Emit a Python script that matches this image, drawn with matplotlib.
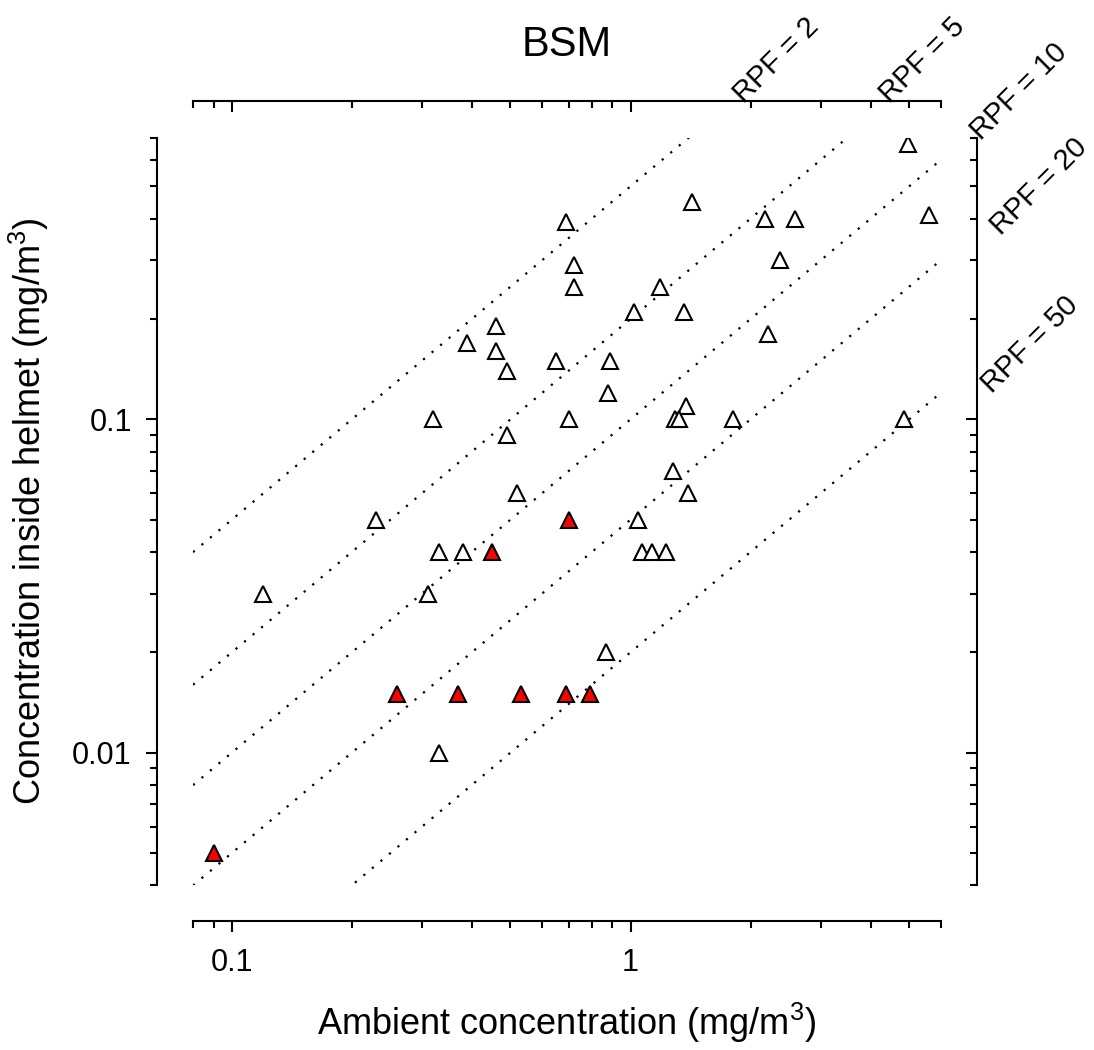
import matplotlib
matplotlib.use("Agg")
import matplotlib.pyplot as plt
import matplotlib.ticker as mticker
import numpy as np

plt.rcParams['font.family'] = ['Liberation Sans', 'DejaVu Sans']
plt.rcParams['mathtext.fontset'] = 'custom'
plt.rcParams['mathtext.rm'] = 'Liberation Sans'
plt.rcParams['mathtext.it'] = 'Liberation Sans'
plt.rcParams['mathtext.default'] = 'regular'

# ambient vs. in-helmet concentration (mg/m3)
open_x = [4.96, 1.43, 0.69, 2.18, 2.58, 5.6, 0.72, 0.72, 2.37, 1.185,
          1.02, 1.36, 0.46, 0.39, 0.46, 0.65, 0.49, 2.21, 0.886, 0.876,
          0.32, 0.70, 1.375, 1.29, 1.32, 1.81, 4.85, 0.49, 1.28, 1.39,
          0.52, 0.23, 1.045, 0.33, 0.38, 1.07, 1.13, 1.23, 0.12, 0.31,
          0.87, 0.33]
open_y = [0.67, 0.45, 0.39, 0.40, 0.40, 0.41, 0.29, 0.25, 0.30, 0.25,
          0.21, 0.21, 0.19, 0.17, 0.16, 0.15, 0.14, 0.18, 0.15, 0.12,
          0.10, 0.10, 0.11, 0.10, 0.10, 0.10, 0.10, 0.09, 0.07, 0.06,
          0.06, 0.05, 0.05, 0.04, 0.04, 0.04, 0.04, 0.04, 0.03, 0.03,
          0.02, 0.01]
red_x = [0.09, 0.26, 0.37, 0.53, 0.69, 0.79, 0.45, 0.70]
red_y = [0.005, 0.015, 0.015, 0.015, 0.015, 0.015, 0.04, 0.05]

rpf_values = [2, 5, 10, 20, 50]
rpf_labels = ['RPF = 2', 'RPF = 5', 'RPF = 10', 'RPF = 20', 'RPF = 50']

x_limits = (0.0799, 6.004)
y_limits = (0.003998, 0.7004)
x_ticks = [0.1, 1]
x_ticklabels = ['0.1', '1']
y_ticks = [0.01, 0.1]
y_ticklabels = ['0.01', '0.1']

fig = plt.figure(figsize=(10.94, 10.5), dpi=100)
ax = fig.add_axes([0.1764, 0.1568, 0.6836, 0.7122])
ax.set_xscale('log')
ax.set_yscale('log')
ax.set_xlim(x_limits)
ax.set_ylim(y_limits)

# RPF reference lines y = x / RPF
xs = np.array(x_limits)
for r in rpf_values:
    ax.plot(xs, xs / r, color='black', lw=1.6, linestyle=(0, (1, 4.0)),
            dash_capstyle='butt', zorder=1)

ax.plot(open_x, open_y, linestyle='none', marker='^', ms=11,
        mfc='white', mec='black', mew=1.5, zorder=3)
ax.plot(red_x, red_y, linestyle='none', marker='^', ms=11,
        mfc='red', mec='black', mew=1.5, zorder=3)

off = 26
lw_sp = 1.5
for s in ['top', 'right']:
    ax.spines[s].set_visible(False)
for s in ['left', 'bottom']:
    ax.spines[s].set_position(('outward', off))
    ax.spines[s].set_linewidth(lw_sp)

ax.xaxis.set_major_locator(mticker.FixedLocator(x_ticks))
ax.xaxis.set_major_formatter(mticker.FixedFormatter(x_ticklabels))
ax.yaxis.set_major_locator(mticker.FixedLocator(y_ticks))
ax.yaxis.set_major_formatter(mticker.FixedFormatter(y_ticklabels))
ax.xaxis.set_minor_formatter(mticker.NullFormatter())
ax.yaxis.set_minor_formatter(mticker.NullFormatter())
ax.tick_params(which='both', direction='out', width=lw_sp, labelsize=22,
               top=False, right=False)
ax.tick_params(which='major', length=8)
ax.tick_params(which='minor', length=5)
ax.tick_params(axis='x', pad=11)
ax.tick_params(axis='y', pad=10)

# top axis (ticks pointing toward the plot)
axt = ax.twiny()
axt.set_xscale('log')
axt.set_xlim(x_limits)
for s in ['bottom', 'left', 'right']:
    axt.spines[s].set_visible(False)
axt.spines['top'].set_position(('outward', off))
axt.spines['top'].set_linewidth(lw_sp)
axt.xaxis.set_major_locator(mticker.FixedLocator(x_ticks))
axt.xaxis.set_major_formatter(mticker.NullFormatter())
axt.xaxis.set_minor_formatter(mticker.NullFormatter())
axt.tick_params(which='both', direction='in', width=lw_sp, top=True,
                labeltop=False, bottom=False, labelbottom=False)
axt.tick_params(which='major', length=8)
axt.tick_params(which='minor', length=5)

# right axis
axr = ax.twinx()
axr.set_yscale('log')
axr.set_ylim(y_limits)
for s in ['bottom', 'left', 'top']:
    axr.spines[s].set_visible(False)
axr.spines['right'].set_position(('outward', off))
axr.spines['right'].set_linewidth(lw_sp)
axr.yaxis.set_major_locator(mticker.FixedLocator(y_ticks))
axr.yaxis.set_major_formatter(mticker.NullFormatter())
axr.yaxis.set_minor_formatter(mticker.NullFormatter())
axr.tick_params(which='both', direction='in', width=lw_sp, right=True,
                labelright=False, left=False, labelleft=False)
axr.tick_params(which='major', length=8)
axr.tick_params(which='minor', length=5)

ax.set_xlabel('Ambient concentration (mg/m$^3$)', fontsize=26)
ax.set_ylabel('Concentration inside helmet (mg/m$^3$)', fontsize=26)
ax.xaxis.set_label_coords(0.5, -0.155)
ax.yaxis.set_label_coords(-0.19, 0.5)

fig.text(0.5183, 0.957, 'BSM', fontsize=30, ha='center', va='center')

# RPF labels outside the plot, rotated along the lines
label_pos = [(2.32, 1.19), (5.41, 1.19), (9.43, 0.96), (10.6, 0.50), (10.05, 0.168)]
for lab, (lx, ly) in zip(rpf_labels, label_pos):
    ax.text(lx, ly, lab, fontsize=21, rotation=45, ha='center', va='center',
            rotation_mode='anchor', clip_on=False)

fig.savefig('out.png', dpi=100)
